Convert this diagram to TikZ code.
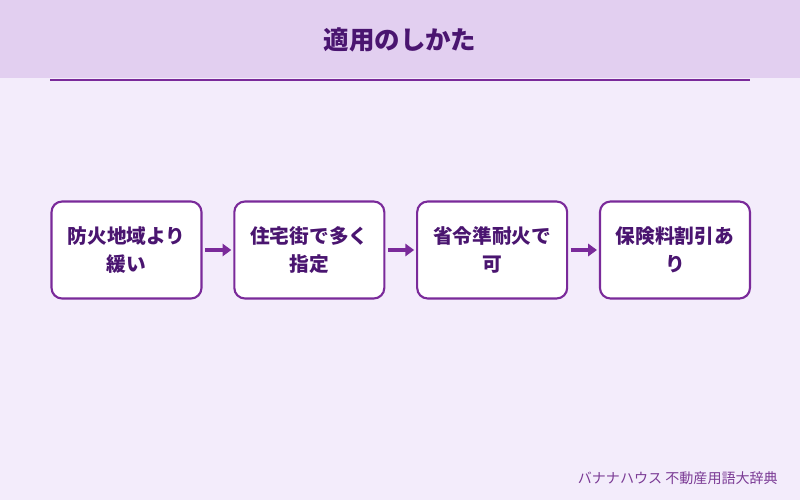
\documentclass[tikz,border=0pt]{standalone}
\usepackage{fontspec}
\setmainfont{Noto Sans CJK JP}
\usetikzlibrary{positioning,arrows.meta}
\definecolor{bgpurple}{HTML}{F3ECFB}
\definecolor{headpurple}{HTML}{E2CFF0}
\definecolor{linepurple}{HTML}{7A2A9A}
\definecolor{textpurple}{HTML}{4A1570}
\begin{document}
\begin{tikzpicture}[
        x=0.02cm, y=-0.02cm,
        % 步驟方塊樣式
        stepbox/.style={
            draw=linepurple,
            fill=white,
            line width=1.2pt,
            rounded corners=6pt,
            minimum width=3.0cm,
            minimum height=1.94cm,
            align=center,
            text=textpurple,
            font=\fontsize{11.2}{16}\selectfont\bfseries
        },
        % 箭頭樣式
        flow/.style={
            draw=linepurple,
            line width=1.8pt,
            -{Triangle[length=5pt,width=7pt]}
        }
    ]
    % --- 背景與標題 ---
    \fill[bgpurple] (0,0) rectangle (800,500);
    \fill[headpurple] (0,0) rectangle (800,78);
    \node[text=textpurple, font=\fontsize{14.5}{16}\selectfont\bfseries] (title) at (400,40) {適用のしかた};
    \coordinate (ruleL) at (50,80);
    \coordinate (ruleR) at (750,80);
    \draw[linepurple, line width=1pt] (ruleL) -- (ruleR);

    % --- 流程 ---
    \node[stepbox] (s1) at (126.5,250) {防火地域より\\緩い};
    \node[stepbox, right=0.615cm of s1] (s2) {住宅街で多く\\指定};
    \node[stepbox, right=0.615cm of s2] (s3) {省令準耐火で\\可};
    \node[stepbox, right=0.615cm of s3] (s4) {保険料割引あ\\り};

    \draw[flow] ([xshift=0.05cm]s1.east) -- ([xshift=-0.04cm]s2.west);
    \draw[flow] ([xshift=0.05cm]s2.east) -- ([xshift=-0.04cm]s3.west);
    \draw[flow] ([xshift=0.05cm]s3.east) -- ([xshift=-0.04cm]s4.west);

    % --- 頁腳 ---
    \node[anchor=east, text=linepurple!80!gray, font=\fontsize{8}{10}\selectfont] (foot) at (784,478) {バナナハウス 不動産用語大辞典};
\end{tikzpicture}
\end{document}
